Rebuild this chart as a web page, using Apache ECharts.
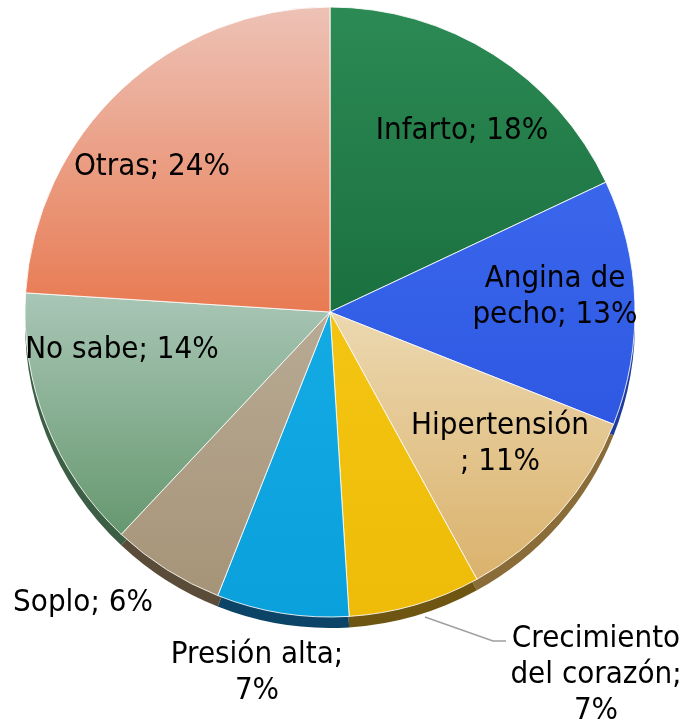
<!DOCTYPE html>
<html>
<head>
<meta charset="utf-8">
<script src="https://cdn.jsdelivr.net/npm/echarts@6/dist/echarts.min.js"></script>
<style>
html,body{margin:0;padding:0;background:#fff;}
#c{width:689px;height:727px;}
</style>
</head>
<body>
<div id="c"></div>
<script>
// Data
const categories = ['Infarto', 'Angina de pecho', 'Hipertensión', 'Crecimiento del corazón', 'Presión alta', 'Soplo', 'No sabe', 'Otras'];
const values = [18, 13, 11, 7, 7, 6, 14, 24];
const labelTemplates = ['Infarto; {v}%', 'Angina de\npecho; {v}%', 'Hipertensión\n; {v}%', 'Crecimiento\ndel corazón;\n{v}%', 'Presión alta;\n{v}%', 'Soplo; {v}%', 'No sabe; {v}%', 'Otras; {v}%'];

// Styles / layout
const topColors = ['#2c8a54', '#3a66ec', '#ecd8b0', '#f3c512', '#14aae4', '#b8aa94', '#a9c6b6', '#edc2b6'];
const bottomColors = ['#1a703f', '#2e58e2', '#dab26c', '#eebc08', '#0aa0dc', '#a69478', '#66986f', '#e87a52'];
const rimColors = ['#135a30', '#1e3c9c', '#8a6c38', '#6e5612', '#0b4466', '#5a4c38', '#3c5e44', '#a05038'];
const labelPos = [[462, 131], [555, 297], [500, 444], [596, 675], [257, 673], [83, 603], [122, 350], [152, 167]];
const CX = 330, CY = 312, R = 305;

function grad(i) {
  return {
    type: 'linear', x: 0, y: 0, x2: 0, y2: 1,
    colorStops: [{offset: 0, color: topColors[i]}, {offset: 1, color: bottomColors[i]}]
  };
}

const mainData = categories.map((c, i) => ({
  name: c,
  value: values[i],
  itemStyle: {color: grad(i)},
  labelLine: {show: i === 3}
}));
const rimData = categories.map((c, i) => ({
  name: c,
  value: values[i],
  itemStyle: {color: rimColors[i]}
}));

const chart = echarts.init(document.getElementById('c'), null, {renderer: 'canvas'});
chart.setOption({
  animation: false,
  series: [
    {
      type: 'pie',
      z: 1,
      center: [CX, CY + 11],
      radius: R,
      startAngle: 90,
      clockwise: true,
      silent: true,
      label: {show: false},
      labelLine: {show: false},
      itemStyle: {borderWidth: 0},
      data: rimData
    },
    {
      type: 'pie',
      z: 2,
      center: [CX, CY],
      radius: R,
      startAngle: 90,
      clockwise: true,
      avoidLabelOverlap: false,
      itemStyle: {borderColor: 'rgba(255,255,255,0.85)', borderWidth: 1},
      label: {
        show: true,
        position: 'outside',
        alignTo: 'none',
        overflow: 'none',
        formatter: p => labelTemplates[p.dataIndex].replace('{v}', p.value),
        fontFamily: '"DejaVu Sans Condensed", "DejaVu Sans", sans-serif',
        fontSize: 31,
        lineHeight: 36,
        color: '#000',
        align: 'center'
      },
      labelLine: {show: false, lineStyle: {color: '#a0a0a0', width: 1.5}},
      labelLayout: function (params) {
        const i = params.dataIndex;
        const p = labelPos[i];
        const out = {x: p[0], y: p[1], align: 'center', verticalAlign: 'middle', hideOverlap: false, moveOverlap: null};
        if (i === 3) {
          out.labelLinePoints = [[425, 617], [493, 641], [506, 641]];
        }
        return out;
      },
      data: mainData
    }
  ]
});
</script>
</body>
</html>
